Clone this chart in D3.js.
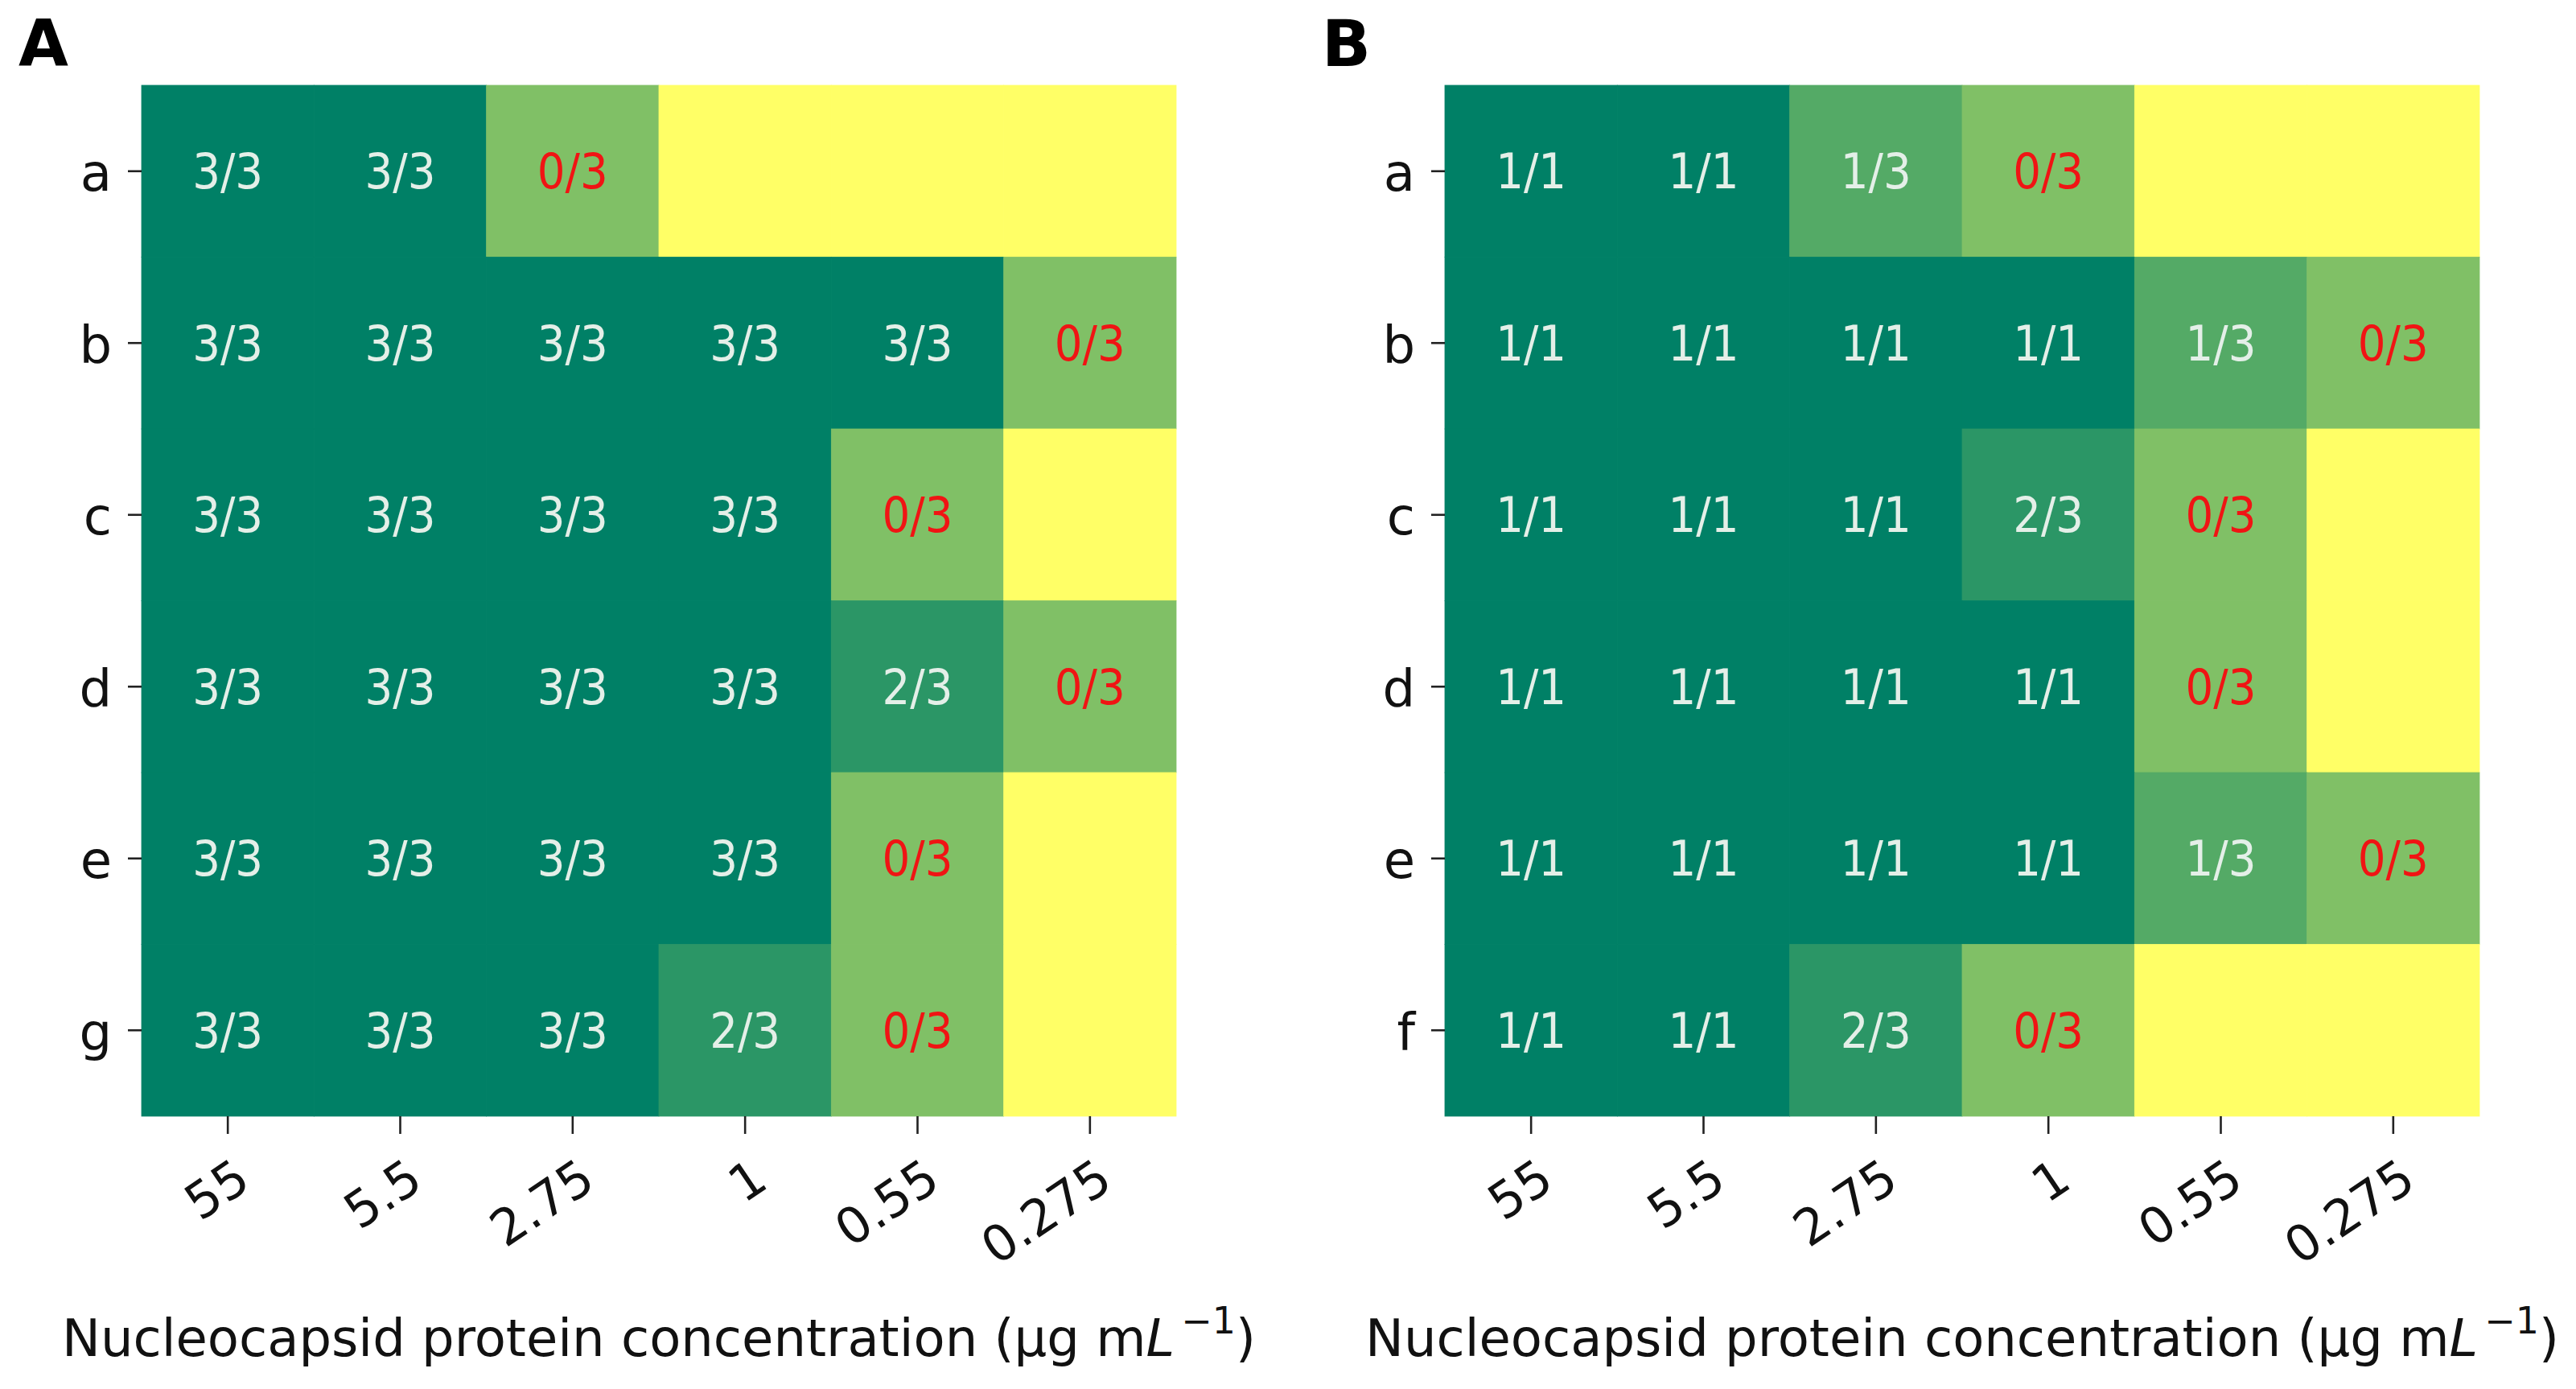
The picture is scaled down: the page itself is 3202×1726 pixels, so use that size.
<!DOCTYPE html>
<html>
<head>
<meta charset="utf-8">
<script src="https://cdn.jsdelivr.net/npm/d3@7"></script>
<style>
  body { margin: 0; background: #fff; }
  text { font-family: "DejaVu Sans", sans-serif; }
</style>
</head>
<body>
<div id="chart"></div>
<script>
// concentrations on the x axis (µg mL-1)
const concentrations = ["55", "5.5", "2.75", "1", "0.55", "0.275"];

const rowsA = ["a", "b", "c", "d", "e", "g"];
const rowsB = ["a", "b", "c", "d", "e", "f"];

// cell annotations
const labelsA = [
    ["3/3", "3/3", "0/3", "", "", ""],
    ["3/3", "3/3", "3/3", "3/3", "3/3", "0/3"],
    ["3/3", "3/3", "3/3", "3/3", "0/3", ""],
    ["3/3", "3/3", "3/3", "3/3", "2/3", "0/3"],
    ["3/3", "3/3", "3/3", "3/3", "0/3", ""],
    ["3/3", "3/3", "3/3", "2/3", "0/3", ""]
];
const labelsB = [
    ["1/1", "1/1", "1/3", "0/3", "", ""],
    ["1/1", "1/1", "1/1", "1/1", "1/3", "0/3"],
    ["1/1", "1/1", "1/1", "2/3", "0/3", ""],
    ["1/1", "1/1", "1/1", "1/1", "0/3", ""],
    ["1/1", "1/1", "1/1", "1/1", "1/3", "0/3"],
    ["1/1", "1/1", "2/3", "0/3", "", ""]
];

// colour values of the cells (0 = yellow, 1 = dark green)
const valuesA = [
    [1, 1, 0.5, 0, 0, 0],
    [1, 1, 1, 1, 1, 0.5],
    [1, 1, 1, 1, 0.5, 0],
    [1, 1, 1, 1, 0.83, 0.5],
    [1, 1, 1, 1, 0.5, 0],
    [1, 1, 1, 0.83, 0.5, 0]
];
const valuesB = [
    [1, 1, 0.67, 0.5, 0, 0],
    [1, 1, 1, 1, 0.67, 0.5],
    [1, 1, 1, 0.83, 0.5, 0],
    [1, 1, 1, 1, 0.5, 0],
    [1, 1, 1, 1, 0.67, 0.5],
    [1, 1, 0.83, 0.5, 0, 0]
];

const width = 3202;
const height = 1726;

// summer_r colour map
const color = d3.scaleLinear()
    .domain([0, 1])
    .range(["#ffff66", "#008066"]);

const svg = d3.select("#chart")
    .append("svg")
    .attr("width", width)
    .attr("height", height);

svg.append("rect")
    .attr("width", width)
    .attr("height", height)
    .attr("fill", "#fff");

function drawPanel(letter, left, rows, labels, values) {
    const top = 106;
    const right = left + 1286;
    const bottom = 1387;

    const x = d3.scaleBand().domain(concentrations).range([left, right]);
    const y = d3.scaleBand().domain(rows).range([top, bottom]);

    const cells = [];
    rows.forEach((r, i) => {
        concentrations.forEach((c, j) => {
            cells.push({ row: r, col: c, label: labels[i][j], value: values[i][j] });
        });
    });

    const g = svg.append("g");

    g.selectAll("rect.cell")
        .data(cells)
        .enter()
        .append("rect")
        .attr("class", "cell")
        .attr("x", d => x(d.col))
        .attr("y", d => y(d.row))
        .attr("width", x.bandwidth())
        .attr("height", y.bandwidth())
        .attr("fill", d => color(d.value))
        .attr("stroke", d => color(d.value))
        .attr("stroke-width", 0.8);

    g.selectAll("text.annot")
        .data(cells.filter(d => d.label !== ""))
        .enter()
        .append("text")
        .attr("class", "annot")
        .attr("x", d => x(d.col) + x.bandwidth() / 2)
        .attr("y", d => y(d.row) + y.bandwidth() / 2)
        .attr("text-anchor", "middle")
        .attr("dy", "0.36em")
        .attr("font-size", 60)
        .attr("textLength", 88)
        .attr("lengthAdjust", "spacingAndGlyphs")
        .attr("fill", d => d.label.startsWith("0/") ? "#f01414" : "#e4efe8")
        .text(d => d.label);

    // y axis
    const yAxis = g.append("g")
        .attr("transform", `translate(${left},0)`)
        .call(d3.axisLeft(y).tickSize(17).tickPadding(20));
    yAxis.select(".domain").remove();
    yAxis.selectAll("line").attr("stroke", "#222").attr("stroke-width", 2.6);
    yAxis.selectAll("text")
        .attr("font-size", 64)
        .attr("fill", "#111")
        .attr("font-family", "DejaVu Sans")
        .attr("dy", "0.38em");

    // x axis
    const xAxis = g.append("g")
        .attr("transform", `translate(0,${bottom})`)
        .call(d3.axisBottom(x).tickSize(22));
    xAxis.select(".domain").remove();
    xAxis.selectAll("line").attr("stroke", "#222").attr("stroke-width", 2.6);
    xAxis.selectAll("text")
        .attr("font-size", 62)
        .attr("fill", "#111")
        .attr("font-family", "DejaVu Sans")
        .attr("text-anchor", "end")
        .attr("y", 0)
        .attr("dy", "0.72em")
        .attr("transform", "translate(6,50) rotate(-34)");

    // axis title
    const title = g.append("text")
        .attr("x", (left + right) / 2)
        .attr("y", 1685)
        .attr("text-anchor", "middle")
        .attr("font-size", 64)
        .attr("fill", "#111");
    title.append("tspan").text("Nucleocapsid protein concentration (μg m");
    title.append("tspan").attr("font-style", "italic").text("L");
    title.append("tspan").attr("font-size", 46).attr("dy", -28).attr("dx", 8).text("−1");
    title.append("tspan").attr("dy", 28).text(")");

    // panel letter
    svg.append("text")
        .attr("x", left - 153)
        .attr("y", 82)
        .attr("font-family", "Liberation Sans, Arial, sans-serif")
        .attr("font-weight", "bold")
        .attr("font-size", 80)
        .attr("fill", "#000")
        .text(letter);
}

drawPanel("A", 176, rowsA, labelsA, valuesA);
drawPanel("B", 1796, rowsB, labelsB, valuesB);
</script>
</body>
</html>
